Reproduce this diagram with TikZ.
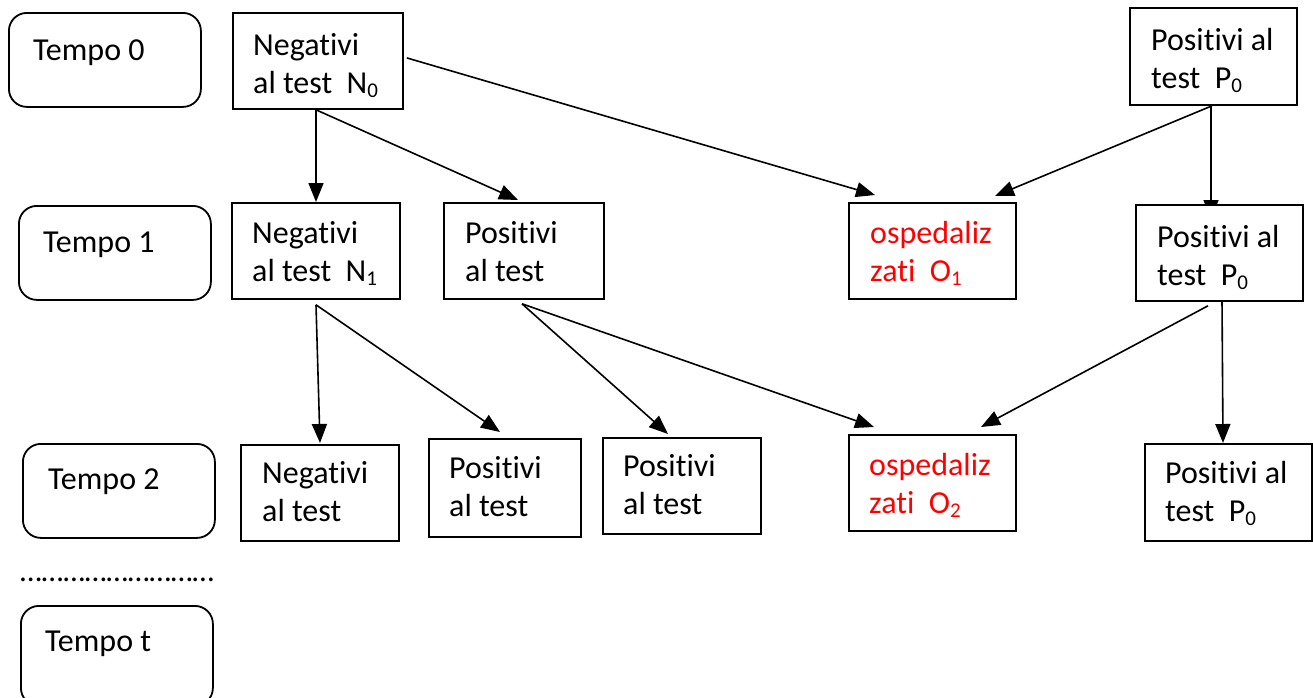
\documentclass[tikz,border=0pt]{standalone}
\usepackage{fontspec}
\setmainfont{Carlito}[Ligatures={NoCommon}]
\usetikzlibrary{arrows.meta,backgrounds}
\definecolor{ored}{RGB}{255,0,0}
\newcommand\lowsub[1]{\raisebox{-0.13em}{\fontsize{21}{21}\selectfont #1}}
\newcommand\twolines[2]{\vtop{\hbox{#1}\hbox{#2}}}
\begin{document}
\begin{tikzpicture}[x=1pt,y=-1pt,
  font=\fontsize{32}{38}\selectfont,
  box/.style={draw, line width=1.8pt, fill=white, inner sep=0pt, anchor=north west},
  tbox/.style={box, rounded corners=18pt},
  txt/.style={inner sep=0pt, anchor=base west},
  arr/.style={line width=1.6pt, -{Triangle[length=19pt,width=15pt]}}]
\useasboundingbox (0,0) rectangle (1313,697);
% time boxes
\node[tbox, minimum width=192pt, minimum height=94pt] (t0) at (8,12) {};
\node[tbox, minimum width=192pt, minimum height=94pt] (t1) at (18,205) {};
\node[tbox, minimum width=192pt, minimum height=94pt] (t2) at (22,443) {};
\node[tbox, minimum width=192pt, minimum height=100pt] (tt) at (20,605) {};
\node[txt] (t0l) at (33,60) {Tempo 0};
\node[txt] (t1l) at (43,252) {Tempo 1};
\node[txt] (t2l) at (48,489) {Tempo 2};
\node[txt] (ttl) at (45,651) {Tempo t};
\node[txt, font=\fontsize{31.2}{38}\selectfont] (dots) at (20,581) {………………………};
% row 0
\node[box, minimum width=170pt, minimum height=96pt] (n0) at (232,12) {};
\node[box, minimum width=167pt, minimum height=97pt] (p0a) at (1129,7) {};
\node[txt] (n0l) at (253,55) {\twolines{Negativi}{al test\ \ N\lowsub{0}}};
\node[txt] (p0al) at (1151,50) {\twolines{Positivi al}{test\ \ P\lowsub{0}}};
% row 1
\node[box, minimum width=168pt, minimum height=96pt] (n1) at (231,202) {};
\node[box, minimum width=160pt, minimum height=96pt] (pos1) at (443,202) {};
\node[box, minimum width=167pt, minimum height=96pt] (o1) at (848,202) {};
\node[box, minimum width=167pt, minimum height=96pt] (p0b) at (1135,204) {};
\node[txt] (n1l) at (252,243) {\twolines{Negativi}{al test\ \ N\lowsub{1}}};
\node[txt] (pos1l) at (465,243) {\twolines{Positivi}{al test}};
\node[txt, text=ored] (o1l) at (870,243) {\twolines{ospedaliz}{zati\ \ O\lowsub{1}}};
\node[txt] (p0bl) at (1157,247) {\twolines{Positivi al}{test\ \ P\lowsub{0}}};
% row 2
\node[box, minimum width=158pt, minimum height=96pt] (neg2) at (240,444) {};
\node[box, minimum width=152pt, minimum height=98pt] (pos2a) at (428,438) {};
\node[box, minimum width=158pt, minimum height=96pt] (pos2b) at (602,437) {};
\node[box, minimum width=167pt, minimum height=96pt] (o2) at (848,434) {};
\node[box, minimum width=167pt, minimum height=97pt] (p0c) at (1144,443) {};
\node[txt] (neg2l) at (262,483) {\twolines{Negativi}{al test}};
\node[txt] (pos2al) at (449,478) {\twolines{Positivi}{al test}};
\node[txt] (pos2bl) at (623,476) {\twolines{Positivi}{al test}};
\node[txt, text=ored] (o2l) at (869,475) {\twolines{ospedaliz}{zati\ \ O\lowsub{2}}};
\node[txt] (p0cl) at (1165,483) {\twolines{Positivi al}{test\ \ P\lowsub{0}}};
% connectors
\begin{scope}[on background layer]
\draw[arr] ([xshift=84pt]n0.south west) -- ([xshift=85pt]n1.north west);
\draw[arr] ([xshift=84pt]n0.south west) -- ([xshift=75pt,yshift=2pt]pos1.north west);
\draw[arr] ([xshift=3pt,yshift=3pt]n0.east) -- ([xshift=27pt,yshift=7pt]o1.north west);
\draw[arr] ([xshift=83pt]p0a.south west) -- ([xshift=147pt,yshift=6pt]o1.north west);
\draw[arr] ([xshift=82pt]p0a.south west) -- ([xshift=76pt,yshift=-15pt]p0b.north west);
\draw[arr] ([xshift=85pt,yshift=-5pt]n1.south west) -- ([xshift=80pt,yshift=1pt]neg2.north west);
\draw[arr] ([xshift=85pt,yshift=-5pt]n1.south west) -- ([xshift=72pt,yshift=6pt]pos2a.north west);
\draw[arr] ([xshift=79pt,yshift=-4pt]pos1.south west) -- ([xshift=66pt,yshift=3pt]pos2b.north west);
\draw[arr] ([xshift=79pt,yshift=-4pt]pos1.south west) -- ([xshift=26pt,yshift=7pt]o2.north west);
\draw[arr] ([xshift=73pt,yshift=-4pt]p0b.south west) -- ([xshift=133pt,yshift=7pt]o2.north west);
\draw[arr] ([xshift=87pt]p0b.south west) -- ([xshift=79pt]p0c.north west);
\end{scope}
\end{tikzpicture}
\end{document}
